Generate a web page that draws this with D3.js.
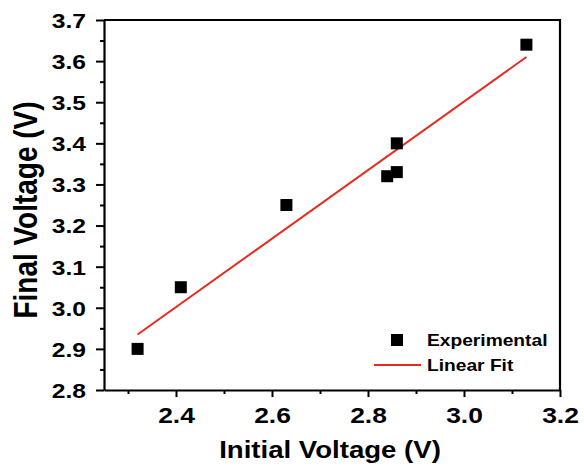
<!DOCTYPE html>
<html>
<head>
<meta charset="utf-8">
<script src="https://cdn.jsdelivr.net/npm/d3@7"></script>
<style>
  body { margin: 0; background: #fff; }
  text { font-family: "Liberation Sans", Arial, sans-serif; font-weight: bold; fill: #000; }
</style>
</head>
<body>
<div id="chart"></div>
<script>
// measured data (initial vs final voltage)
let initialV = [2.32, 2.41, 2.63, 2.84, 2.86, 2.86, 3.13];
let finalV = [2.90, 3.05, 3.25, 3.32, 3.33, 3.40, 3.64];

// linear fit end points
let fitX = [2.32, 3.13];
let fitY = [2.935, 3.61];

let xTicks = [2.4, 2.6, 2.8, 3.0, 3.2];
let xMinor = [2.3, 2.5, 2.7, 2.9, 3.1];
let yTicks = [2.8, 2.9, 3.0, 3.1, 3.2, 3.3, 3.4, 3.5, 3.6, 3.7];
let yMinor = [2.85, 2.95, 3.05, 3.15, 3.25, 3.35, 3.45, 3.55, 3.65];

let svgWidth = 584;
let svgHeight = 468;
let margin = { top: 20, right: 24, bottom: 78, left: 104 };
let chartWidth = svgWidth - margin.left - margin.right;
let chartHeight = svgHeight - margin.top - margin.bottom;
let sx = 1.2; // the original text is stretched sideways

let svg = d3.select("#chart")
    .append("svg")
    .attr("width", svgWidth)
    .attr("height", svgHeight);

let chartGroup = svg.append("g")
    .attr("transform", `translate(${margin.left}, ${margin.top})`);

let xScale = d3.scaleLinear().domain([2.25, 3.2]).range([0, chartWidth]);
let yScale = d3.scaleLinear().domain([2.8, 3.7]).range([chartHeight, 0]);

// minor ticks
chartGroup.append("g")
    .attr("transform", `translate(0, ${chartHeight})`)
    .call(d3.axisBottom(xScale).tickValues(xMinor).tickSize(4).tickFormat(""))
    .call(g => g.select(".domain").remove());
chartGroup.append("g")
    .call(d3.axisLeft(yScale).tickValues(yMinor).tickSize(4).tickFormat(""))
    .call(g => g.select(".domain").remove());

// major axes
let xAxis = chartGroup.append("g")
    .attr("transform", `translate(0, ${chartHeight})`)
    .call(d3.axisBottom(xScale).tickValues(xTicks).tickSize(7).tickSizeOuter(0).tickFormat(d3.format(".1f")));
xAxis.selectAll("text")
    .attr("y", 33).attr("dy", null)
    .attr("transform", `scale(${sx},1)`)
    .style("font-size", "22px");

let yAxis = chartGroup.append("g")
    .call(d3.axisLeft(yScale).tickValues(yTicks).tickSize(8).tickSizeOuter(0).tickFormat(d3.format(".1f")));
yAxis.selectAll("text")
    .attr("x", -18 / sx).attr("dy", "0.36em")
    .attr("transform", `scale(${sx},1)`)
    .style("font-size", "20.5px");

svg.selectAll(".tick line").attr("stroke", "#000").attr("stroke-width", 2);
svg.selectAll(".domain").attr("stroke", "#000").attr("stroke-width", 2.2);
svg.selectAll(".tick text").style("font-family", null);

// top and right frame
chartGroup.append("path")
    .attr("d", `M0,0H${chartWidth}V${chartHeight}`)
    .attr("fill", "none")
    .attr("stroke", "#000")
    .attr("stroke-width", 2.2);

// fit line
let line = d3.line().x(d => xScale(d[0])).y(d => yScale(d[1]));
chartGroup.append("path")
    .datum(d3.zip(fitX, fitY))
    .attr("d", line)
    .attr("fill", "none")
    .attr("stroke", "#e52b20")
    .attr("stroke-width", 2);

// points
chartGroup.selectAll("rect.pt")
    .data(d3.zip(initialV, finalV))
    .enter()
    .append("rect")
    .attr("class", "pt")
    .attr("x", d => xScale(d[0]) - 6)
    .attr("y", d => yScale(d[1]) - 6)
    .attr("width", 12)
    .attr("height", 12)
    .attr("fill", "#000");

// legend
let legend = svg.append("g");
legend.append("rect")
    .attr("x", 391).attr("y", 334)
    .attr("width", 12).attr("height", 12)
    .attr("fill", "#000");
legend.append("text")
    .attr("transform", `translate(427, 346) scale(${sx},1)`)
    .style("font-size", "16px")
    .text("Experimental");
legend.append("line")
    .attr("x1", 374).attr("x2", 421)
    .attr("y1", 365).attr("y2", 365)
    .attr("stroke", "#e52b20")
    .attr("stroke-width", 2);
legend.append("text")
    .attr("transform", `translate(427, 371) scale(${sx},1)`)
    .style("font-size", "16px")
    .text("Linear Fit");

// axis titles
svg.append("text")
    .attr("transform", `translate(330, 458) scale(${sx},1)`)
    .attr("text-anchor", "middle")
    .style("font-size", "23px")
    .text("Initial Voltage (V)");

svg.append("text")
    .attr("transform", `translate(37, 210) scale(${sx},1) rotate(-90)`)
    .attr("text-anchor", "middle")
    .style("font-size", "28px")
    .text("Final Voltage (V)");
</script>
</body>
</html>
